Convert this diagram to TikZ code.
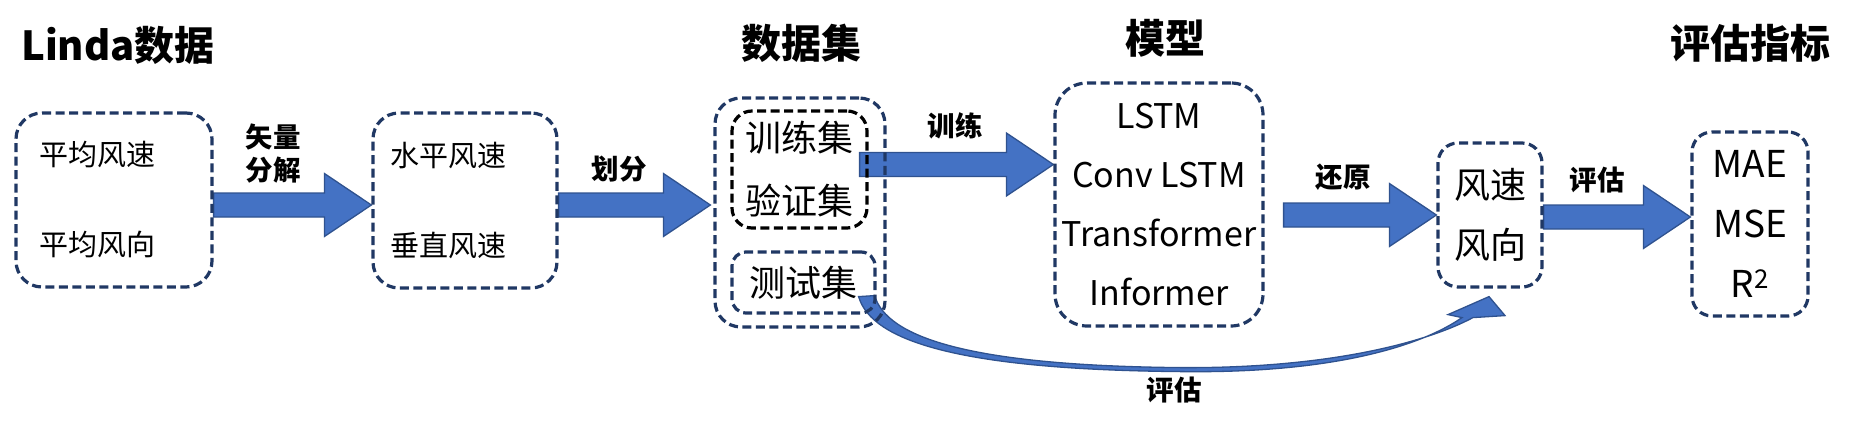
\documentclass[tikz,border=0pt]{standalone}
\usepackage{fontspec}
\setmainfont{Noto Sans CJK SC}
\usepackage{tikz}
\usetikzlibrary{positioning,backgrounds,calc}
\definecolor{boxline}{HTML}{203864}
\definecolor{arrowfill}{HTML}{4472C4}
\definecolor{arrowline}{HTML}{2F528F}
\tikzset{
  databox/.style={draw=boxline, line width=3.2pt, dash pattern=on 9pt off 4.5pt, rounded corners=#1, align=center, inner sep=0pt},
  databox/.default=24pt,
  fatarrow/.style={fill=arrowfill, draw=arrowline, line width=1.3pt, line join=miter},
  steplabel/.style={font=\bfseries\fontsize{27.5}{33}\selectfont, align=center},
  heading/.style={font=\bfseries\fontsize{40}{48}\selectfont}
}
% block arrow: tail at #1, tip on the x of #2
\newcommand{\blockarrow}[2]{%
  \draw[fatarrow] let \p1=(#1), \p2=(#2) in
    (\x1,\y1+12pt) -- (\x2-47pt,\y1+12pt) -- (\x2-47pt,\y1+31.5pt) -- (\x2,\y1)
    -- (\x2-47pt,\y1-31.5pt) -- (\x2-47pt,\y1-12pt) -- (\x1,\y1-12pt) -- cycle;}

\begin{document}
\begin{tikzpicture}[x=1pt, y=-1pt]
  \useasboundingbox (0,0) rectangle (1858,425);

  % headings
  \node[heading] (tsrc) at (118,45) {Linda数据};
  \node[heading] (tset) at (801,43) {数据集};
  \node[heading] (tmodel) at (1165,38) {模型};
  \node[heading] (tmetric) at (1750,43) {评估指标};

  % boxes
  \node[databox=26pt, minimum width=196pt, minimum height=174pt, text width=150pt, align=left, font=\fontsize{29}{90}\selectfont] (avg) at (114,200) {平均风速\\平均风向};
  \node[databox=26pt, minimum width=184pt, minimum height=175pt, text width=150pt, align=left, font=\fontsize{29}{90}\selectfont] (comp) at (465,200.5) {水平风速\\垂直风速};
  \node[databox=26pt, minimum width=170pt, minimum height=229pt] (dataset) at (800,212.5) {};
  \node[databox=20pt, draw=black, minimum width=135pt, minimum height=117pt, font=\fontsize{36}{63}\selectfont] (trainval) at (799.5,169.5) {训练集\\验证集};
  \node[databox=14pt, minimum width=143pt, minimum height=61pt, font=\fontsize{36}{40}\selectfont] (test) at (803.5,282.5) {测试集};
  \node[databox=32pt, minimum width=208pt, minimum height=243pt, font=\fontsize{34}{59}\selectfont] (model) at (1159,204.5) {LSTM\\Conv LSTM\\Transformer\\Informer};
  \node[databox=20pt, minimum width=104pt, minimum height=144pt, font=\fontsize{36}{60}\selectfont] (wind) at (1490,215) {风速\\风向};
  \node[databox=20pt, minimum width=116pt, minimum height=184pt, font=\fontsize{37}{60}\selectfont] (metric) at (1750,224) {MAE\\MSE\\R\textsuperscript{2}};

  % labels on the arrows
  \node[steplabel] (lbldecomp) at (273,153.5) {矢量\\分解};
  \node[steplabel] (lblsplit) at (619,169) {划分};
  \node[steplabel] (lbltrain) at (955,126) {训练};
  \node[steplabel] (lblrestore) at (1343,177) {还原};
  \node[steplabel] (lbleval) at (1597,180) {评估};
  \node[steplabel] (lbltest) at (1174,390) {评估};

  % curved arrow ends
  \coordinate (cs1) at ([shift={(-18,-18)}]test.south east);
  \coordinate (cs2) at ([shift={(-2,-19)}]test.south east);
  \coordinate (cb1) at ($(test.south east)!0.5!(wind.south)+(-3,70)$);
  \coordinate (cb2) at ($(test.south east)!0.5!(wind.south)+(-3,66)$);
  \coordinate (cn1) at ([shift={(-28,29)}]wind.south);
  \coordinate (cn2) at ([shift={(-17,29)}]wind.south);
  \coordinate (chl) at ([shift={(-42,26)}]wind.south);
  \coordinate (chr) at ([shift={(15,27)}]wind.south);
  \coordinate (ctip) at ([shift={(-1,8)}]wind.south);

  \begin{scope}[on background layer]
    \blockarrow{[yshift=-5pt]avg.east}{comp.west}
    \blockarrow{[yshift=-4.5pt]comp.east}{[xshift=-3pt]dataset.west}
    \blockarrow{[xshift=-9pt,yshift=5pt]trainval.east}{model.west}
    \blockarrow{[xshift=19pt,yshift=-10.5pt]model.east}{wind.west}
    \blockarrow{[yshift=-2pt]wind.east}{metric.west}
    \draw[fatarrow] (cs1) .. controls +(13,45) and +(-219,-2) .. (cb1)
      .. controls +(151,2) and +(-42,29) .. (cn1)
      -- (chl) -- (ctip) -- (chr) -- (cn2)
      .. controls +(-45,24) and +(151,1) .. (cb2)
      .. controls +(-214,-2) and +(12,41) .. (cs2) -- cycle;
  \end{scope}
\end{tikzpicture}
\end{document}
